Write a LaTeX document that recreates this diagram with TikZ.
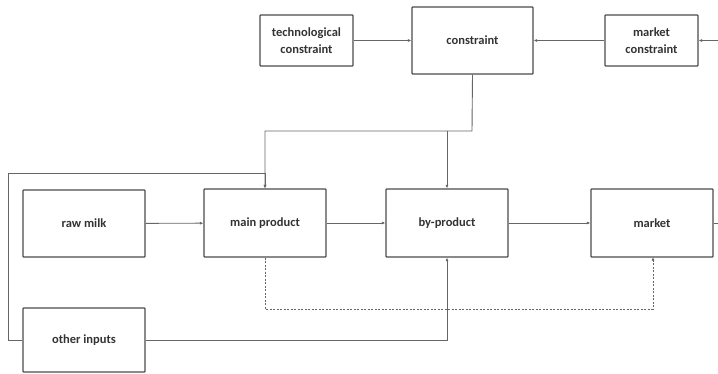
\documentclass[tikz,border=0pt]{standalone}
\usepackage{fontspec}
\setmainfont{Carlito}
\usetikzlibrary{arrows.meta}
\begin{document}
\begin{tikzpicture}[x=1pt,y=-1pt,
  box/.style={draw=black!70,line width=1.2pt,rounded corners=0.8pt,font=\bfseries\fontsize{12.5}{17}\selectfont,text=black!80,align=center,inner sep=0},
  conn/.style={draw=black!60,line width=0.9pt,-{Latex[length=3.5pt,width=3pt]}},
  plain/.style={draw=black!60,line width=0.9pt},
  dconn/.style={draw=black!60,line width=0.9pt,dash pattern=on 2pt off 1.5pt,-{Latex[length=3.5pt,width=3pt]}}]
\useasboundingbox (0,0) rectangle (718,373);
\node[box,minimum width=93pt,minimum height=51pt] (tech) at (306.5,40.5) {technological\\constraint};
\node[box,minimum width=121pt,minimum height=67pt] (con) at (472.5,40.5) {constraint};
\node[box,minimum width=93pt,minimum height=51pt] (mcon) at (651.5,40.5) {market\\constraint};
\node[box,minimum width=122pt,minimum height=67pt] (raw) at (84,223.5) {raw milk};
\node[box,minimum width=122pt,minimum height=68pt] (main) at (265,223) {main product};
\node[box,minimum width=122pt,minimum height=68pt] (by) at (447,223) {by-product};
\node[box,minimum width=122pt,minimum height=68pt] (mkt) at (652,223) {market};
\node[box,minimum width=122pt,minimum height=64pt] (oth) at (84,340) {other inputs};
\coordinate (rin) at (718,40.5);
\coordinate (rout) at (718,223);
\draw[conn] (tech) -- (con);
\draw[conn] (mcon) -- (con);
\draw[conn] (rin) -- (mcon);
\draw[conn] (raw) -- (main);
\draw[conn] (main) -- (by);
\draw[conn] (by) -- (mkt);
\draw[plain] (mkt) -- (rout);
\draw[conn] (con.south) -- (472,131) -| (main.north);
\draw[conn] (447,131) -- (by.north);
\draw[conn] (oth.west) -- (8,340) |- (265,173) -- (main.north);
\draw[conn] (oth.east) -| (by.south);
\draw[dconn] (main.south) -- (265,309) -| (653,257);
\end{tikzpicture}
\end{document}
